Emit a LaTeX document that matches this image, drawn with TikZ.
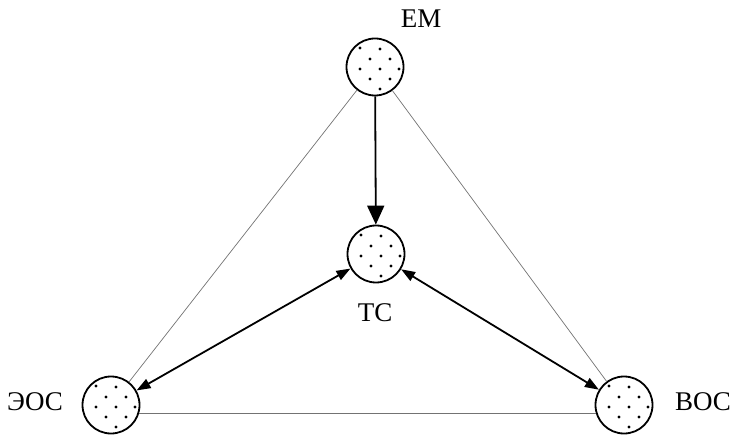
\documentclass[tikz,border=0pt]{standalone}
\usepackage{fontspec}
\setmainfont{Liberation Serif}
\usetikzlibrary{arrows.meta}
\begin{document}
\begin{tikzpicture}[x=1pt,y=-1pt,
  unit/.style={circle,draw,line width=1.8pt,minimum size=57pt,inner sep=0pt},
  lbl/.style={font=\fontsize{27}{30}\selectfont,inner sep=0pt},
  thinline/.style={black!55,line width=0.7pt},
  mainarrow/.style={line width=1.8pt,-{Triangle[length=19pt,width=17pt]}},
  twoway/.style={line width=1.8pt,{Triangle[length=14pt,width=10pt]}-{Triangle[length=14pt,width=10pt]}}]
\useasboundingbox (0,0) rectangle (730,435);
\node[unit] (em) at (375,67) {};
\node[unit] (tc) at (376,254) {};
\node[unit] (eos) at (111,405) {};
\node[unit] (vos) at (624,405) {};
\foreach \c in {em,tc,eos,vos}{
  \foreach \dx/\dy in {-15/-19,5/-18,-5/-8,15/-8,-15/2,5/2,24/2,-5/12,15/12,5/22}{
    \fill ([shift={(\dx,\dy)}]\c.center) circle (1.6pt);
  }
}
\node[lbl] (lem) at (421,19) {ЕМ};
\node[lbl] (ltc) at (375,313) {ТС};
\node[lbl] (leos) at (35,402) {ЭОС};
\node[lbl] (lvos) at (703,402) {ВОС};
\draw[thinline] (em) -- (eos);
\draw[thinline] (em) -- (vos);
\draw[thinline] (eos.-16) -- (vos.196);
\draw[mainarrow] (em) -- (tc);
\draw[twoway] (tc) -- (eos);
\draw[twoway] (tc) -- (vos);
\end{tikzpicture}
\end{document}
